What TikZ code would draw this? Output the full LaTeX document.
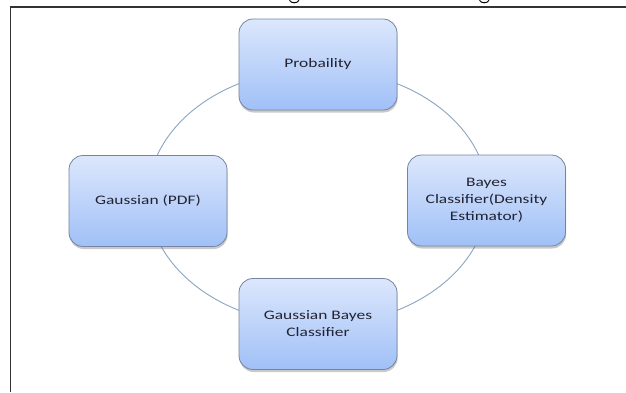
\documentclass[tikz,border=0pt]{standalone}
\usepackage{fontspec}
\setmainfont{Carlito}[FakeStretch=1.34]
\usetikzlibrary{shadows,calc}
\definecolor{boxtop}{RGB}{220,231,252}
\definecolor{boxbot}{RGB}{160,192,247}
\definecolor{boxedge}{RGB}{118,132,160}
\definecolor{ringcol}{RGB}{140,165,195}
\definecolor{txt}{RGB}{35,35,50}
\begin{document}
\begin{tikzpicture}[x=1pt,y=-1pt,
  cyclebox/.style={draw=boxedge, line width=0.8pt, rounded corners=14pt,
    minimum width=158pt, minimum height=91pt, inner sep=2pt,
    top color=boxtop, bottom color=boxbot, align=center, text=txt,
    font=\fontsize{13}{17}\selectfont,
    drop shadow={shadow xshift=0.6pt, shadow yshift=-2.5pt, opacity=0.35, fill=black!60}},
  ring/.style={draw=ringcol, line width=0.9pt},
  frameline/.style={draw=black!80, line width=1.4pt}]
\useasboundingbox (0,0) rectangle (626,392);
\fill[white] (0,0) rectangle (626,392);
% frame and cut-off text descenders
\draw[frameline] (10.5,392) -- (10.5,7) -- (626,7);
\draw[line width=1pt] (289.5,0.3) .. controls (291,3.6) and (297.5,3.6) .. (299,0.3);
\draw[line width=1pt] (479.5,0.3) .. controls (481,3.6) and (487.5,3.6) .. (489,0.3);
% centre of the cycle
\coordinate (c) at (318,197);
\draw[ring] (c) ellipse [x radius=170, y radius=128];
% boxes
\node[cyclebox] (prob)  at (318,64.5) {Probaility};
\node[cyclebox] (gauss) at (148,201)  {Gaussian (PDF)};
\node[cyclebox] (bayes) at (486.5,200.5) {Bayes\\Classifier(Density\\Estimator)};
\node[cyclebox] (gbc)   at (318,324)  {Gaussian Bayes\\Classifier};
\end{tikzpicture}
\end{document}
